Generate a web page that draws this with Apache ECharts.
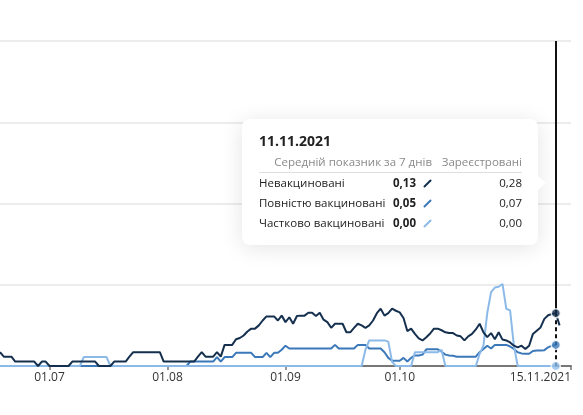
<!DOCTYPE html>
<html>
<head>
<meta charset="utf-8">
<script src="https://cdn.jsdelivr.net/npm/echarts@6/dist/echarts.min.js"></script>
<style>
  html, body { margin: 0; padding: 0; background: #fff; }
  #chart { width: 583px; height: 415px; }
</style>
</head>
<body>
<div id="chart"></div>
<script>
'use strict';

// daily 7-day averages, 18.06.2021 .. 12.11.2021 (null = no data)
const unvaccinated = [
  0.034, 0.023, 0.023, 0.023, 0.011, 0.011, 0.011, 0.011, 0.011, 0.011,
  0, 0.011, 0.011, 0, 0, 0, 0, 0, 0, 0.011,
  0.011, 0.011, 0.011, 0.011, 0.011, 0.011, 0, 0, 0, 0,
  0.011, 0.011, 0.011, 0.011, 0.023, 0.034, 0.034, 0.034, 0.034, 0.034,
  0.034, 0.034, 0.034, 0.011, 0.011, 0.011, 0.011, 0.011, 0.011, 0.011,
  0.011, 0.011, 0.023, 0.034, 0.023, 0.023, 0.023, 0.034, 0.023, 0.052,
  0.052, 0.052, 0.066, 0.069, 0.075, 0.085, 0.092, 0.092, 0.1, 0.112,
  0.122, 0.122, 0.122, 0.112, 0.124, 0.108, 0.12, 0.104, 0.123, 0.124,
  0.124, 0.131, 0.131, 0.123, 0.131, 0.114, 0.108, 0.094, 0.104, 0.104,
  0.104, 0.083, 0.083, 0.094, 0.104, 0.1, 0.094, 0.1, 0.112, 0.13,
  0.141, 0.124, 0.13, 0.141, 0.136, 0.132, 0.118, 0.086, 0.092, 0.079,
  0.068, 0.063, 0.071, 0.08, 0.092, 0.092, 0.088, 0.083, 0.081, 0.081,
  0.075, 0.073, 0.063, 0.073, 0.079, 0.09, 0.104, 0.083, 0.071, 0.081,
  0.066, 0.083, 0.065, 0.063, 0.058, 0.05, 0.046, 0.05, 0.042, 0.05,
  0.079, 0.087, 0.095, 0.116, 0.125, 0.128, 0.13, 0.1
];
const fullyVaccinated = [
  0, 0, 0, 0, 0, 0, 0, 0, 0, 0,
  0, 0, 0, 0, 0, 0, 0, 0, 0, 0,
  0, 0, 0, 0, 0, 0, 0, 0, 0, 0,
  0, 0, 0, 0, 0, 0, 0, 0, 0, 0,
  0, 0, 0, 0, 0, 0, 0, 0, 0, 0,
  0.011, 0.011, 0.011, 0.011, 0.011, 0.011, 0.011, 0.022, 0.011, 0.022,
  0.022, 0.022, 0.0325, 0.0325, 0.0325, 0.0325, 0.0325, 0.022, 0.022, 0.022,
  0.0325, 0.022, 0.0325, 0.0325, 0.04, 0.05, 0.043, 0.043, 0.043, 0.043,
  0.043, 0.043, 0.043, 0.043, 0.043, 0.043, 0.043, 0.043, 0.052, 0.043,
  0.043, 0.043, 0.043, 0.043, 0.052, 0.052, 0.052, 0.043, 0.043, 0.043,
  0.043, 0.034, 0.02, 0.013, 0.013, 0.013, 0.02, 0.011, 0.02, 0.026,
  0.026, 0.028, 0.041, 0.041, 0.041, 0.041, 0.035, 0.028, 0.026, 0.025,
  0.023, 0.023, 0.023, 0.023, 0.023, 0.023, 0.034, 0.042, 0.05, 0.043,
  0.052, 0.052, 0.052, 0.052, 0.048, 0.042, 0.034, 0.031, 0.03, 0.03,
  0.037, 0.038, 0.038, 0.039, 0.046, 0.05, 0.052, null
];
const partiallyVaccinated = [
  0, 0, 0, 0, 0, 0, 0, 0, 0, 0,
  0, 0, 0, 0, 0, 0, 0, 0, 0, 0,
  0, 0, 0.022, 0.022, 0.022, 0.022, 0.022, 0.022, 0.022, 0,
  0, 0, 0, 0, 0, 0, 0, 0, 0, 0,
  0, 0, 0, 0, 0, 0, 0, 0, 0, 0,
  0, 0, 0, 0, 0, 0, 0, 0, 0, 0,
  0, 0, 0, 0, 0, 0, 0, 0, 0, 0,
  0, 0, 0, 0, 0, 0, 0, 0, 0, 0,
  0, 0, 0, 0, 0, 0, 0, 0, 0, 0,
  0, 0, 0, 0, 0, 0, 0.04, 0.063, 0.063, 0.063,
  0.063, 0.063, 0.06, 0.01, 0, 0, 0, 0, 0, 0.034,
  0.034, 0.034, 0.034, 0.034, 0.034, 0.034, 0.04, 0, 0, 0,
  0, 0, 0, 0, 0, 0, 0.03, 0.05, 0.13, 0.182,
  0.193, 0.195, 0.202, 0.141, 0.137, 0.05, 0, 0, 0, 0,
  0, 0, 0, 0, 0, 0, 0, null
];
// registered values on the highlighted day, same order as seriesNames
const registered = [0.28, 0.07, 0.00];
const seriesNames = ['Невакциновані', 'Повністю вакциновані', 'Частково вакциновані'];
const seriesColors = ['#15304f', '#3a78b9', '#8cbae8'];
const tickDates = ['01.07.2021', '01.08.2021', '01.09.2021', '01.10.2021', '15.11.2021'];
const hoverDate = '11.11.2021';

const START = new Date(2021, 5, 18);
const END = new Date(2021, 10, 15);

function pad(n) { return n < 10 ? '0' + n : '' + n; }
function fmtDate(d) { return pad(d.getDate()) + '.' + pad(d.getMonth() + 1) + '.' + d.getFullYear(); }
function fmtNum(v) { return (v || 0).toFixed(2).replace('.', ','); }

let categories = [];
for (let d = new Date(START); d <= END; d.setDate(d.getDate() + 1)) {
  categories.push(fmtDate(d));
}
const hoverIdx = categories.indexOf(hoverDate);
const lastIdx = categories.length - 1;

const seriesValues = [unvaccinated, fullyVaccinated, partiallyVaccinated];

function icon(color) {
  return '<svg width="9" height="9" style="display:block"><line x1="1.5" y1="7.5" x2="7.5" y2="1.5" stroke="' +
    color + '" stroke-width="2" stroke-linecap="round"/></svg>';
}

function tooltipHtml() {
  const txt = 'position:absolute;font-size:11.5px;line-height:16px;white-space:nowrap;';
  let h = '<div style="position:relative;width:296px;height:126px;font-family:\'Open Sans\',sans-serif;color:#222;">';
  h += '<div style="position:absolute;left:17px;top:12px;font-size:14px;font-weight:bold;line-height:20px;">' + hoverDate + '</div>';
  h += '<div style="' + txt + 'right:106px;top:35px;color:#8a8a8a;">Середній показник за 7 днів</div>';
  h += '<div style="' + txt + 'right:16px;top:35px;color:#8a8a8a;">Зареєстровані</div>';
  h += '<div style="position:absolute;left:17px;right:16px;top:53px;height:1px;background:#dedede;"></div>';
  for (let k = 0; k < seriesNames.length; k++) {
    const top = 56 + k * 20;
    h += '<div style="' + txt + 'left:17px;top:' + top + 'px;">' + seriesNames[k] + '</div>';
    h += '<div style="' + txt + 'right:122px;top:' + top + 'px;font-weight:bold;">' + fmtNum(seriesValues[k][hoverIdx]) + '</div>';
    h += '<div style="position:absolute;left:181px;top:' + (top + 4) + 'px;">' + icon(seriesColors[k]) + '</div>';
    h += '<div style="' + txt + 'right:16px;top:' + top + 'px;">' + fmtNum(registered[k]) + '</div>';
  }
  h += '<div style="position:absolute;left:296px;top:57px;width:0;height:0;border-top:7px solid transparent;border-bottom:7px solid transparent;border-left:8px solid #fff;"></div>';
  h += '</div>';
  return h;
}

function lineSeries(k) {
  return {
    name: seriesNames[k],
    type: 'line',
    data: seriesValues[k],
    showSymbol: false,
    symbol: 'none',
    lineStyle: { color: seriesColors[k], width: 2 },
    itemStyle: { color: seriesColors[k] },
    connectNulls: false,
    tooltip: { show: false },
  };
}

const chart = echarts.init(document.getElementById('chart'));

// draw order: fully (bottom), partially, unvaccinated (top)
let series = [lineSeries(1), lineSeries(2), lineSeries(0)];

series[2].markLine = {
  silent: true,
  symbol: 'none',
  label: { show: false },
  animation: false,
  data: [
    [{ coord: [hoverIdx, 0.8], lineStyle: { color: '#111', width: 2, type: 'solid' } },
     { coord: [hoverIdx, unvaccinated[hoverIdx]] }],
    [{ coord: [hoverIdx, unvaccinated[hoverIdx]], lineStyle: { color: '#111', width: 2, type: [4, 3] } },
     { coord: [hoverIdx, 0] }],
  ],
};

// markers on the highlighted day; the tooltip is attached to these
series.push({
  type: 'scatter',
  z: 5,
  symbolSize: 9,
  data: seriesValues.map((arr, k) => ({
    value: [hoverIdx, arr[hoverIdx]],
    itemStyle: { color: seriesColors[k], borderColor: '#fff', borderWidth: 1.5 },
  })),
  emphasis: { disabled: true },
});

const option = {
  animation: false,
  textStyle: { fontFamily: 'Open Sans' },
  grid: { left: -2, right: 12, top: 41, bottom: 49, containLabel: false },
  tooltip: {
    trigger: 'item',
    triggerOn: 'none',
    alwaysShowContent: true,
    transitionDuration: 0,
    position: [242, 119],
    padding: 0,
    borderWidth: 0,
    backgroundColor: '#fff',
    extraCssText: 'box-shadow:0 3px 22px rgba(0,0,0,0.11);border-radius:8px;',
    formatter: tooltipHtml,
  },
  xAxis: {
    type: 'category',
    data: categories,
    boundaryGap: false,
    axisLine: { lineStyle: { color: '#777', width: 2 } },
    axisTick: {
      length: 4,
      lineStyle: { color: '#777', width: 1.5 },
      interval: (i, v) => tickDates.indexOf(v) >= 0,
    },
    axisLabel: {
      interval: (i, v) => tickDates.indexOf(v) >= 0,
      formatter: (v, i) => (i === lastIdx ? v : v.slice(0, 5)),
      color: '#333',
      fontSize: 12,
      margin: 6,
      alignMaxLabel: 'right',
    },
    splitLine: { show: false },
  },
  yAxis: {
    type: 'value',
    min: 0,
    max: 0.8,
    interval: 0.2,
    axisLabel: { show: false },
    axisLine: { show: false },
    axisTick: { show: false },
    splitLine: { lineStyle: { color: '#ececec', width: 2 } },
  },
  series: series,
};

chart.setOption(option);
chart.dispatchAction({ type: 'showTip', seriesIndex: 3, dataIndex: 0 });
</script>
</body>
</html>
